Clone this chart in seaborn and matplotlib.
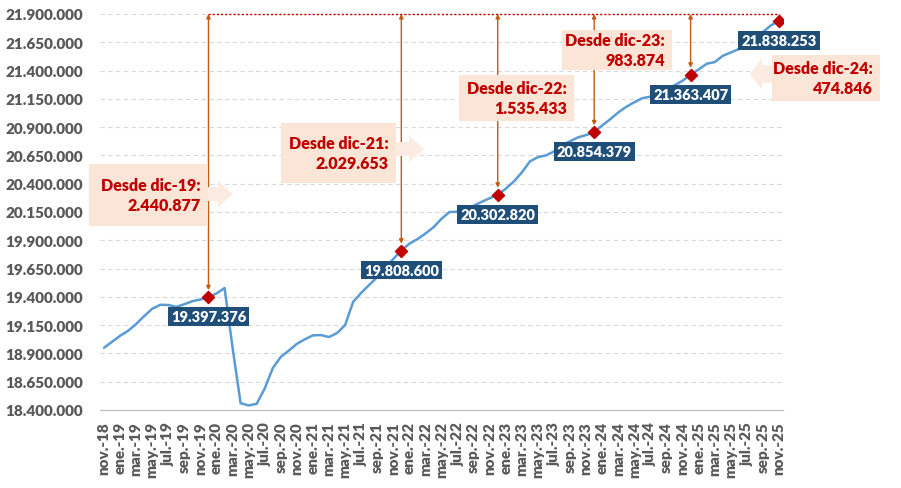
import matplotlib
matplotlib.use("Agg")
import matplotlib.pyplot as plt
import matplotlib.patches as mpatches
import seaborn as sns
import pandas as pd
import numpy as np

# monthly series, nov-18 .. nov-25 (thousands)
start_year, start_month = 2018, 11
values_k = [
    18950, 19003, 19056, 19100, 19160, 19230, 19295, 19330, 19328, 19312, 19335, 19362,
    19377, 19397.376, 19430, 19478, 18950, 18460, 18440, 18455, 18590, 18770, 18870, 18925,
    18985, 19025, 19060, 19062, 19045, 19080, 19150, 19355, 19435, 19505, 19575, 19655,
    19735, 19808.600, 19870, 19910, 19960, 20015, 20090, 20150, 20152, 20162, 20205, 20240,
    20272, 20302.820, 20356, 20420, 20500, 20597, 20635, 20650, 20685, 20740, 20775, 20810,
    20830, 20854.379, 20915, 20970, 21030, 21080, 21120, 21156, 21170, 21185, 21220, 21270,
    21310, 21363.407, 21410, 21460, 21475, 21530, 21560, 21590, 21650, 21690, 21740, 21800,
    21838.253,
]
meses = ["ene", "feb", "mar", "abr", "may", "jun", "jul", "ago", "sep", "oct", "nov", "dic"]
hitos = ["dic.-19", "dic.-21", "dic.-22", "dic.-23", "dic.-24", "nov.-25"]
desde = ["dic-19", "dic-21", "dic-22", "dic-23", "dic-24"]

labels = []
for k in range(len(values_k)):
    m = (start_month - 1 + k) % 12
    y = start_year + (start_month - 1 + k) // 12
    labels.append(f"{meses[m]}.-{str(y)[2:]}")

df = pd.DataFrame({"mes": labels, "valor": np.array(values_k) * 1000})
df["idx"] = np.arange(len(df))

def fmt(v):
    return f"{int(round(v)):,}".replace(",", ".")

W, H = 901, 489
def fx(x):
    return x / W
def fy(y):
    return 1 - y / H

sns.set_style("white")
plt.rcParams["font.family"] = ["Lato", "DejaVu Sans"]
WT = "heavy"

fig = plt.figure(figsize=(9.01, 4.89), dpi=100)
ax = fig.add_axes([fx(100), fy(411), (783 - 100) / W, (411 - 15) / H])

ymin, ymax = 18400000, 21900000
ax.set_ylim(ymin, ymax)
ax.set_xlim(-0.5, len(df) - 0.5)

yt = np.arange(ymin, ymax + 1, 250000)
ax.set_yticks(yt)
ax.set_yticklabels([fmt(v) for v in yt], color="#595959", fontsize=11, fontweight=WT)
for v in yt[1:]:
    ax.axhline(v, color="#D9D9D9", lw=0.8, ls=(0, (4, 3)), zorder=0)

ax.set_xticks(df["idx"][::2])
ax.set_xticklabels(df["mes"][::2], rotation=90, color="#595959", fontsize=11, fontweight=WT)
ax.set_xticks(np.arange(-0.5, len(df) - 1, 2), minor=True)
ax.tick_params(axis="x", which="major", length=0, pad=8)
ax.tick_params(axis="x", which="minor", length=4, color="#BFBFBF", width=0.8)
ax.tick_params(axis="y", length=0, pad=12)
for s in ["top", "right", "left"]:
    ax.spines[s].set_visible(False)
ax.spines["bottom"].set_color("#BFBFBF")
ax.spines["bottom"].set_linewidth(0.9)

sns.lineplot(data=df, x="idx", y="valor", ax=ax, color="#5B9BD5", lw=1.8, zorder=3)
ax.set_xlabel("")
ax.set_ylabel("")

pts = df[df["mes"].isin(hitos)]
last = df["valor"].iloc[-1]
ax.hlines(ymax, pts["idx"].iloc[0], pts["idx"].iloc[-1], color="#C00000", lw=1,
          ls=(0, (1.5, 1.5)), clip_on=False, zorder=4)

# vertical double arrows from each marker to the top line
for _, r in pts.iloc[:-1].iterrows():
    ax.annotate("", xy=(r["idx"], ymax), xytext=(r["idx"], r["valor"]),
                arrowprops=dict(arrowstyle="<|-|>", color="#C55A11", lw=1,
                                mutation_scale=6, shrinkA=5, shrinkB=0), zorder=2)

ax.scatter(pts["idx"], pts["valor"], marker="D", s=38, color="#C00000", zorder=6)

for _, r in pts.iterrows():
    ax.annotate(fmt(r["valor"]), (r["idx"], r["valor"]), xytext=(0, -14),
                textcoords="offset points", ha="center", va="center", color="white",
                fontsize=10.5, fontweight=WT, zorder=7,
                bbox=dict(boxstyle="square,pad=0.2", fc="#1F4E79", ec="none"))

# peach callouts (pixel boxes) with block arrows
boxes = [(89, 165, 208, 227), (281, 124, 396, 184), (459, 76, 574, 122),
         (562, 31, 672, 71), (772, 56, 880, 102)]
arrows = [
    [(208, 188), (218, 188), (218, 182), (233, 195), (218, 208), (218, 202), (208, 202)],
    [(396, 143), (409, 143), (409, 137), (424, 150), (409, 163), (409, 157), (396, 157)],
    None,
    None,
    [(772, 66), (762, 66), (762, 59), (750, 75), (762, 91), (762, 84), (772, 84)],
]
for (x0, y0, x1, y1), arr, d, (_, r) in zip(boxes, arrows, desde, pts.iloc[:-1].iterrows()):
    rect = mpatches.Rectangle((fx(x0), fy(y1)), fx(x1 - x0), (y1 - y0) / H,
                              transform=fig.transFigure, fc="#FBE5D6", ec="none",
                              clip_on=False, zorder=5)
    ax.add_patch(rect)
    if arr is not None:
        poly = mpatches.Polygon([(fx(a), fy(b)) for a, b in arr], closed=True,
                                transform=fig.transFigure, fc="#FCEBE1", ec="none",
                                clip_on=False, zorder=5)
        ax.add_patch(poly)
    ax.text(fx(x1 - 7), fy((y0 + y1) / 2), f"Desde {d}:\n{fmt(last - r['valor'])}",
            transform=fig.transFigure, ha="right", va="center", ma="right",
            color="#C00000", fontsize=11.5, fontweight=WT, linespacing=1.25, zorder=6)

fig.savefig("out.png", dpi=100)
